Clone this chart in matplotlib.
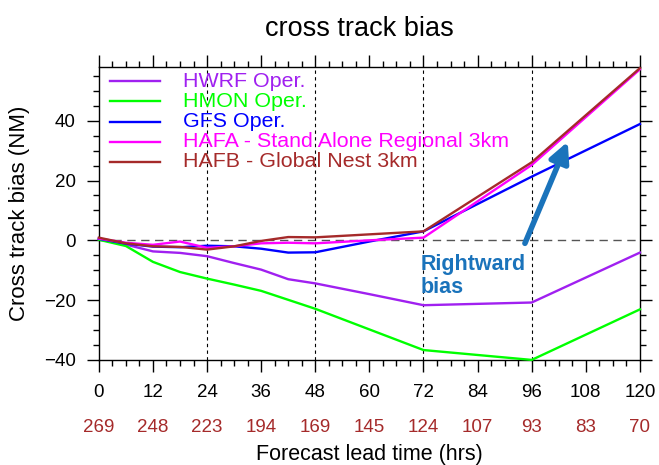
import numpy as np
import matplotlib
matplotlib.use('Agg')
import matplotlib.pyplot as plt
from matplotlib.ticker import MultipleLocator
from matplotlib.transforms import blended_transform_factory

plt.rcParams['font.family'] = ['Liberation Sans', 'DejaVu Sans']

# forecast hours and cross track bias (NM)
hours = [0, 6, 12, 18, 24, 30, 36, 42, 48, 60, 72, 96, 120]
hwrf = [0.3, -1.4, -3.7, -4.2, -5.3, -7.6, -9.8, -13.0, -14.4, -18.0, -21.7, -20.8, -4.1]
hmon = [0.2, -1.9, -7.2, -10.6, -12.8, -14.8, -16.9, -19.9, -22.9, -29.8, -36.7, -40.0, -23.1]
gfs = [0.5, -1.1, -2.1, -2.3, -1.8, -2.0, -2.8, -4.1, -4.0, -0.4, 3.0, 21.3, 38.9]
hafa = [0.6, -0.8, -1.5, -0.4, -2.5, -2.0, -1.0, -0.8, -1.0, 0.0, 0.9, 25.2, 57.2]
hafb = [0.9, -1.0, -2.0, -2.2, -3.1, -2.0, -0.2, 1.1, 1.0, 2.0, 3.0, 26.1, 57.6]

names = ['HWRF Oper.', 'HMON Oper.', 'GFS Oper.',
         'HAFA - Stand Alone Regional 3km', 'HAFB - Global Nest 3km']
colors = ['#a020f0', '#00ff00', '#0000ff', '#ff00ff', '#a52a2a']

tick_hours = [0, 12, 24, 36, 48, 60, 72, 84, 96, 108, 120]
counts = [269, 248, 223, 194, 169, 145, 124, 107, 93, 83, 70]

fig = plt.figure(figsize=(6.59, 4.65), dpi=100)
ax = fig.add_axes([0.150, 0.226, 0.821, 0.630])

# reference lines
ax.axhline(0, color='#555555', lw=1.0, ls=(0, (6, 4)), zorder=1)
for h in [24, 48, 72, 96]:
  ax.axvline(h, color='black', lw=0.8, ls=(0, (3, 3)), zorder=1)

for ys, c, n in zip([hwrf, hmon, gfs, hafa, hafb], colors, names):
  ax.plot(hours, ys, color=c, lw=1.7, label=n, clip_on=False, zorder=3)

ax.set_xlim(0, 120)
ax.set_ylim(-40, 58)
ax.set_xticks(tick_hours)
ax.xaxis.set_minor_locator(MultipleLocator(3))
ax.set_yticks([-40, -20, 0, 20, 40])
ax.yaxis.set_minor_locator(MultipleLocator(5))
ax.tick_params(which='both', direction='out', top=True, right=True,
               labelsize=13.5, width=1.0)
ax.tick_params(which='major', length=8.5)
ax.tick_params(which='minor', length=4.3)
ax.tick_params(axis='x', pad=9)
ax.tick_params(axis='y', pad=8)
for s in ax.spines.values():
  s.set_linewidth(1.0)

# sample counts under the tick labels
tr = blended_transform_factory(ax.transData, ax.transAxes)
for h, n in zip(tick_hours, counts):
  ax.text(h, -0.232, str(n), transform=tr, ha='center', va='center',
          fontsize=13.5, color='#a52a2a', clip_on=False)

ax.set_xlabel('Forecast lead time (hrs)', fontsize=15.5, labelpad=31)
ax.set_ylabel('Cross track bias (NM)', fontsize=16, labelpad=10)
fig.text(0.545, 0.937, 'cross track bias', ha='center', va='center', fontsize=19.5)

# legend, drawn row by row in axes coordinates
for i, (n, c) in enumerate(zip(names, colors)):
  yy = 0.952 - 0.0691 * i
  ax.plot([0.020, 0.113], [yy, yy], color=c, lw=1.7, transform=ax.transAxes)
  ax.text(0.155, yy, n, color=c, fontsize=15.4, ha='left', va='center',
          transform=ax.transAxes)

# rightward bias arrow
ax.annotate('', xy=(104.0, 33.0), xytext=(94.5, -1.0),
            arrowprops=dict(arrowstyle='-|>,head_length=1.2,head_width=0.6',
                            lw=4, color='#1a73bb', shrinkA=0, shrinkB=0))
ax.text(71.3, -12.0, 'Rightward\nbias', color='#1a73bb', fontsize=15.5,
        fontweight='bold', ha='left', va='center', linespacing=1.15)

fig.savefig('out.png', dpi=100)
